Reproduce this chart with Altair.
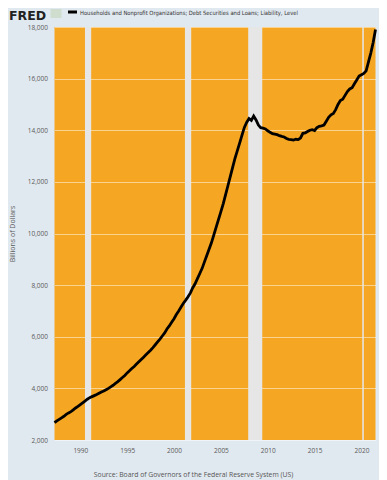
import altair as alt
import pandas as pd

# Quarterly values, billions of dollars, 1987Q2 .. 2021Q3
values = [
    2670, 2740, 2800,
    2860, 2920, 2990, 3050,
    3100, 3170, 3240, 3300,
    3370, 3440, 3510, 3580,
    3640, 3680, 3720, 3760,
    3810, 3860, 3900, 3950,
    4000, 4060, 4120, 4190,
    4260, 4340, 4420, 4500,
    4600, 4680, 4770, 4850,
    4940, 5030, 5120, 5210,
    5300, 5390, 5480, 5580,
    5690, 5800, 5910, 6030,
    6150, 6300, 6420, 6560,
    6700, 6860, 7000, 7150,
    7300, 7420, 7550, 7700,
    7900, 8050, 8250, 8450,
    8650, 8900, 9150, 9400,
    9650, 9950, 10250, 10550,
    10850, 11150, 11500, 11850,
    12200, 12550, 12900, 13200,
    13500, 13800, 14100, 14300,
    14450, 14380, 14550, 14400,
    14200, 14100, 14080, 14050,
    13980, 13920, 13870, 13850,
    13830, 13790, 13760, 13740,
    13680, 13650, 13640, 13620,
    13650, 13640, 13700, 13880,
    13900, 13950, 14000, 14020,
    13990, 14100, 14150, 14170,
    14200, 14350, 14500, 14600,
    14650, 14800, 15000, 15150,
    15200, 15350, 15500, 15600,
    15650, 15800, 15950, 16100,
    16150, 16200, 16300, 16650,
    17000, 17400, 17900,
]
dates = pd.date_range("1987-04-01", periods=len(values), freq="QS")

rec_start = ["1990-07-01", "2001-03-01", "2007-12-01", "2020-02-01"]
rec_end = ["1991-03-01", "2001-11-01", "2009-06-01", "2020-04-01"]

series_name = "Households and Nonprofit Organizations; Debt Securities and Loans; Liability, Level"
source_text = "Source: Board of Governors of the Federal Reserve System (US)"
y_title = "Billions of Dollars"

df = pd.DataFrame({"date": dates, "value": values})
rec = pd.DataFrame({"start": pd.to_datetime(rec_start), "end": pd.to_datetime(rec_end)})

W, H = 321, 413
FONT = "Open Sans"

xscale = alt.Scale(domain=[dates[0].isoformat(), dates[-1].isoformat()], nice=False)
yscale = alt.Scale(domain=[2000, 18000], nice=False)

bands = alt.Chart(rec).mark_rect(color="#e6e6e6").encode(
    x=alt.X("start:T", scale=xscale),
    x2="end:T",
    y=alt.value(0),
    y2=alt.value(H),
)

line = alt.Chart(df).mark_line(color="#000000", strokeWidth=2.8).encode(
    x=alt.X(
        "date:T",
        scale=xscale,
        axis=alt.Axis(
            title=None, format="%Y", tickCount={"interval": "year", "step": 5},
            grid=False, ticks=False, domain=False, labelPadding=7,
            labelFont=FONT, labelFontSize=6.5, labelColor="#595959",
        ),
    ),
    y=alt.Y(
        "value:Q",
        scale=yscale,
        axis=alt.Axis(
            title=y_title, values=list(range(2000, 18001, 2000)), format=",.0f",
            grid=True, gridColor="#ffffff", gridOpacity=0.5, gridWidth=1,
            ticks=False, domain=False, labelPadding=7,
            labelFont=FONT, labelFontSize=6.5, labelColor="#595959",
            titleFont=FONT, titleFontSize=7, titleFontWeight="normal",
            titleColor="#595959", titlePadding=12,
        ),
    ),
)

logo = alt.Chart(pd.DataFrame({"t": ["FRED"]})).mark_text(
    font="DejaVu Sans", fontSize=12.5, fontWeight="bold", color="#222222",
    align="left", baseline="alphabetic",
).encode(text="t:N", x=alt.value(-45.5), y=alt.value(-7))

icon = alt.Chart(pd.DataFrame({"a": [0]})).mark_rect(
    color="#c9d9c4", opacity=0.8
).encode(x=alt.value(-4), x2=alt.value(7), y=alt.value(-18), y2=alt.value(-9))

swatch = alt.Chart(pd.DataFrame({"a": [0]})).mark_rule(
    color="#000000", strokeWidth=3
).encode(x=alt.value(13.5), x2=alt.value(22.5), y=alt.value(-15), y2=alt.value(-15))

legend = alt.Chart(pd.DataFrame({"t": [series_name]})).mark_text(
    font="DejaVu Sans Condensed, Liberation Sans Narrow, Liberation Sans", fontSize=5.8,
    color="#333333", align="left", baseline="middle",
).encode(text="t:N", x=alt.value(25.5), y=alt.value(-14.5))

source = alt.Chart(pd.DataFrame({"t": [source_text]})).mark_text(
    font=FONT, fontSize=6.8, color="#555555", align="center", baseline="alphabetic",
).encode(text="t:N", x=alt.value(139), y=alt.value(450))

chart = alt.layer(bands, line, logo, icon, swatch, legend, source).properties(
    width=W, height=H,
    autosize=alt.AutoSizeParams(type="none"),
    padding={"left": 46.5, "top": 19, "right": 3, "bottom": 40},
    background="#e1e9f0",
).configure_view(fill="#f5a623", stroke=None)

chart.save("out.html", embed_options={"renderer": "svg", "actions": False})
